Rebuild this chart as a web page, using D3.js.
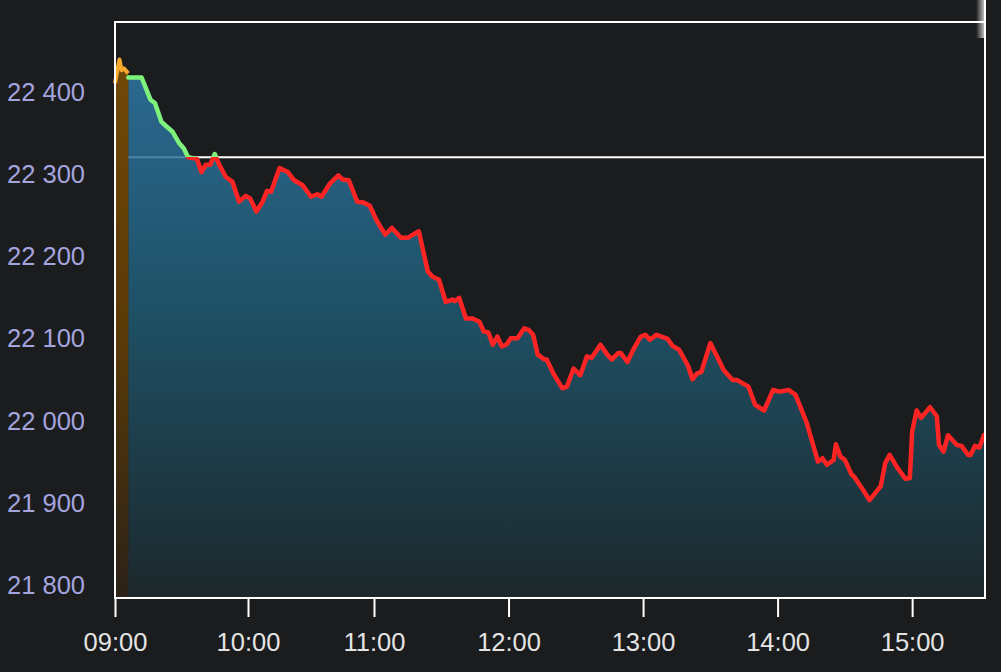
<!DOCTYPE html>
<html>
<head>
<meta charset="utf-8">
<script src="https://cdn.jsdelivr.net/npm/d3@7"></script>
<style>
  html, body { margin: 0; padding: 0; background: #1b1c1e; }
  svg { display: block; }
  text { font-family: "Liberation Sans", Arial, sans-serif; }
</style>
</head>
<body>
<div class="chart"></div>
<script>
// pre-open auction (orange)
const preTimes = ["09:00", "09:02", "09:03", "09:04", "09:06"];
const preValues = [22410, 22439, 22426, 22428, 22422];

// session prices
const mainTimes = [
  "09:06", "09:12", "09:16", "09:18", "09:21", "09:23", "09:26", "09:29", "09:31", "09:33",
  "09:37", "09:39", "09:41", "09:43", "09:45", "09:47", "09:50", "09:53", "09:56", "09:59",
  "10:01", "10:04", "10:07", "10:09", "10:11", "10:15", "10:19", "10:22", "10:26", "10:30",
  "10:33", "10:35", "10:39", "10:43", "10:45", "10:48", "10:52", "10:55", "10:58", "11:01",
  "11:05", "11:08", "11:12", "11:15", "11:20", "11:24", "11:26", "11:29", "11:32", "11:35",
  "11:36", "11:38", "11:41", "11:44", "11:47", "11:49", "11:51", "11:53", "11:55", "11:57",
  "11:59", "12:01", "12:04", "12:07", "12:09", "12:11", "12:13", "12:16", "12:17", "12:20",
  "12:24", "12:26", "12:29", "12:32", "12:35", "12:37", "12:41", "12:44", "12:46", "12:49",
  "12:50", "12:53", "12:56", "12:59", "13:01", "13:03", "13:06", "13:11", "13:13", "13:16",
  "13:20", "13:22", "13:24", "13:26", "13:30", "13:36", "13:40", "13:42", "13:47", "13:50",
  "13:54", "13:58", "14:01", "14:05", "14:08", "14:13", "14:18", "14:20", "14:22", "14:25",
  "14:26", "14:28", "14:30", "14:33", "14:34", "14:38", "14:41", "14:46", "14:48", "14:50",
  "14:53", "14:57", "14:59", "15:00", "15:02", "15:04", "15:08", "15:11", "15:12", "15:14",
  "15:16", "15:20", "15:22", "15:25", "15:26", "15:28", "15:30", "15:32"
];
const mainValues = [
  22417, 22417, 22390, 22386, 22363, 22358, 22351, 22337, 22331, 22320,
  22318, 22302, 22311, 22311, 22324, 22311, 22296, 22290, 22266, 22273,
  22270, 22254, 22266, 22279, 22278, 22307, 22302, 22292, 22286, 22272,
  22275, 22272, 22288, 22298, 22293, 22292, 22266, 22265, 22261, 22244,
  22226, 22234, 22222, 22222, 22230, 22181, 22175, 22171, 22144, 22147,
  22145, 22149, 22124, 22124, 22120, 22108, 22107, 22092, 22102, 22090,
  22092, 22100, 22100, 22112, 22110, 22104, 22080, 22074, 22074, 22057,
  22039, 22041, 22063, 22055, 22078, 22076, 22092, 22080, 22074, 22082,
  22082, 22071, 22088, 22102, 22104, 22098, 22104, 22099, 22091, 22086,
  22067, 22050, 22057, 22059, 22094, 22061, 22049, 22049, 22041, 22019,
  22012, 22037, 22035, 22037, 22031, 21997, 21950, 21954, 21946, 21952,
  21971, 21956, 21952, 21934, 21932, 21916, 21903, 21920, 21948, 21958,
  21944, 21929, 21930, 21986, 22012, 22003, 22016, 22005, 21970, 21962,
  21982, 21970, 21969, 21958, 21958, 21969, 21967, 21982
];

// previous close
const refValue = 22320;

const xTicks = ["09:00", "10:00", "11:00", "12:00", "13:00", "14:00", "15:00"];
const yTicks = [21800, 21900, 22000, 22100, 22200, 22300, 22400];

const width = 1001,
  height = 672;
const plotLeft = 115,
  plotRight = 985,
  plotTop = 22,
  plotBottom = 598;

const parseTime = d3.timeParse("%H:%M");
const fmtY = d3.formatLocale({ decimal: ".", thousands: " ", grouping: [3], currency: ["", ""] }).format(",");

const pre = preTimes.map((t, i) => ({ t: parseTime(t), v: preValues[i] }));
const main = mainTimes.map((t, i) => ({ t: parseTime(t), v: mainValues[i] }));

// axis spacing in the original is not perfectly even, so use a piecewise time scale
const xScale = d3
  .scaleTime()
  .domain([parseTime("09:00"), parseTime("10:00"), parseTime("11:00"), d3.timeParse("%H:%M:%S")("15:32:30")])
  .range([plotLeft, 248, 374, plotRight]);

const yScale = d3.scaleLinear().domain([21784, 22484.5]).range([plotBottom, plotTop]);

const svg = d3
  .select(".chart")
  .append("svg")
  .attr("width", width)
  .attr("height", height);

const defs = svg.append("defs");

const blueGrad = defs
  .append("linearGradient")
  .attr("id", "blueFill")
  .attr("gradientUnits", "userSpaceOnUse")
  .attr("x1", 0).attr("x2", 0)
  .attr("y1", plotTop).attr("y2", plotBottom);
blueGrad.append("stop").attr("offset", "0%").attr("stop-color", "#327eb2");
blueGrad.append("stop").attr("offset", "50%").attr("stop-color", "#1f5b74");
blueGrad.append("stop").attr("offset", "100%").attr("stop-color", "#1c2a2e");

const orangeGrad = defs
  .append("linearGradient")
  .attr("id", "orangeFill")
  .attr("gradientUnits", "userSpaceOnUse")
  .attr("x1", 0).attr("x2", 0)
  .attr("y1", plotTop).attr("y2", plotBottom);
orangeGrad.append("stop").attr("offset", "0%").attr("stop-color", "#744a06");
orangeGrad.append("stop").attr("offset", "55%").attr("stop-color", "#5a3a08");
orangeGrad.append("stop").attr("offset", "100%").attr("stop-color", "#2b2218");

// line is green above the previous close, red below
const yRef = yScale(refValue);
const lineGrad = defs
  .append("linearGradient")
  .attr("id", "lineColor")
  .attr("gradientUnits", "userSpaceOnUse")
  .attr("x1", 0).attr("x2", 0)
  .attr("y1", yRef - 1).attr("y2", yRef + 1);
lineGrad.append("stop").attr("offset", "0%").attr("stop-color", "#7ff27c");
lineGrad.append("stop").attr("offset", "50%").attr("stop-color", "#7ff27c");
lineGrad.append("stop").attr("offset", "50%").attr("stop-color", "#ff2424");
lineGrad.append("stop").attr("offset", "100%").attr("stop-color", "#ff2424");

const fadeGrad = defs.append("linearGradient").attr("id", "fade");
fadeGrad.append("stop").attr("offset", "0%").attr("stop-color", "#fff").attr("stop-opacity", 0);
fadeGrad.append("stop").attr("offset", "100%").attr("stop-color", "#fff").attr("stop-opacity", 0.7);

// reference line (drawn under the translucent area)
svg
  .append("line")
  .attr("x1", xScale(main[0].t))
  .attr("x2", plotRight)
  .attr("y1", yRef)
  .attr("y2", yRef)
  .attr("stroke", "#ffffff")
  .attr("stroke-width", 2);

const area = d3
  .area()
  .x((d) => xScale(d.t))
  .y0(plotBottom)
  .y1((d) => yScale(d.v));

const line = d3
  .line()
  .x((d) => xScale(d.t))
  .y((d) => yScale(d.v));

svg
  .append("path")
  .datum(main)
  .attr("d", area)
  .attr("fill", "url(#blueFill)")
  .attr("fill-opacity", 0.84);

svg
  .append("path")
  .datum(pre)
  .attr("d", area)
  .attr("fill", "url(#orangeFill)");

svg
  .append("path")
  .datum(pre)
  .attr("d", line)
  .attr("fill", "none")
  .attr("stroke", "#f7a92e")
  .attr("stroke-width", 4)
  .attr("stroke-linejoin", "round");

svg
  .append("path")
  .datum(main)
  .attr("d", line)
  .attr("fill", "none")
  .attr("stroke", "url(#lineColor)")
  .attr("stroke-width", 4.5)
  .attr("stroke-linejoin", "round")
  .attr("stroke-linecap", "round");

// frame
svg
  .append("rect")
  .attr("x", plotLeft)
  .attr("y", plotTop)
  .attr("width", plotRight - plotLeft)
  .attr("height", plotBottom - plotTop)
  .attr("fill", "none")
  .attr("stroke", "#ffffff")
  .attr("stroke-width", 2);

// scroll handle at top right
svg
  .append("line")
  .attr("x1", plotRight).attr("x2", plotRight)
  .attr("y1", 0).attr("y2", plotTop)
  .attr("stroke", "#ffffff")
  .attr("stroke-width", 2);
svg
  .append("rect")
  .attr("x", 976).attr("y", 0)
  .attr("width", 8).attr("height", 38)
  .attr("fill", "url(#fade)");

// x axis
const xAxis = d3
  .axisBottom(xScale)
  .tickValues(xTicks.map(parseTime))
  .tickFormat(d3.timeFormat("%H:%M"))
  .tickSize(19)
  .tickPadding(16);

const gx = svg
  .append("g")
  .attr("id", "x-axis")
  .attr("transform", "translate(0," + plotBottom + ")")
  .call(xAxis);
gx.select(".domain").remove();
gx.selectAll("line").attr("stroke", "#ffffff").attr("stroke-width", 2);
gx.selectAll("text")
  .attr("fill", "#e4e4e4")
  .style("font-size", "25.5px");

// y labels, no tick marks
svg
  .append("g")
  .attr("id", "y-axis")
  .selectAll("text")
  .data(yTicks)
  .enter()
  .append("text")
  .attr("x", 7)
  .attr("y", (d) => yScale(d))
  .attr("dy", "0.36em")
  .attr("fill", "#a4a4de")
  .style("font-size", "25.5px")
  .text((d) => fmtY(d));
</script>
</body>
</html>
